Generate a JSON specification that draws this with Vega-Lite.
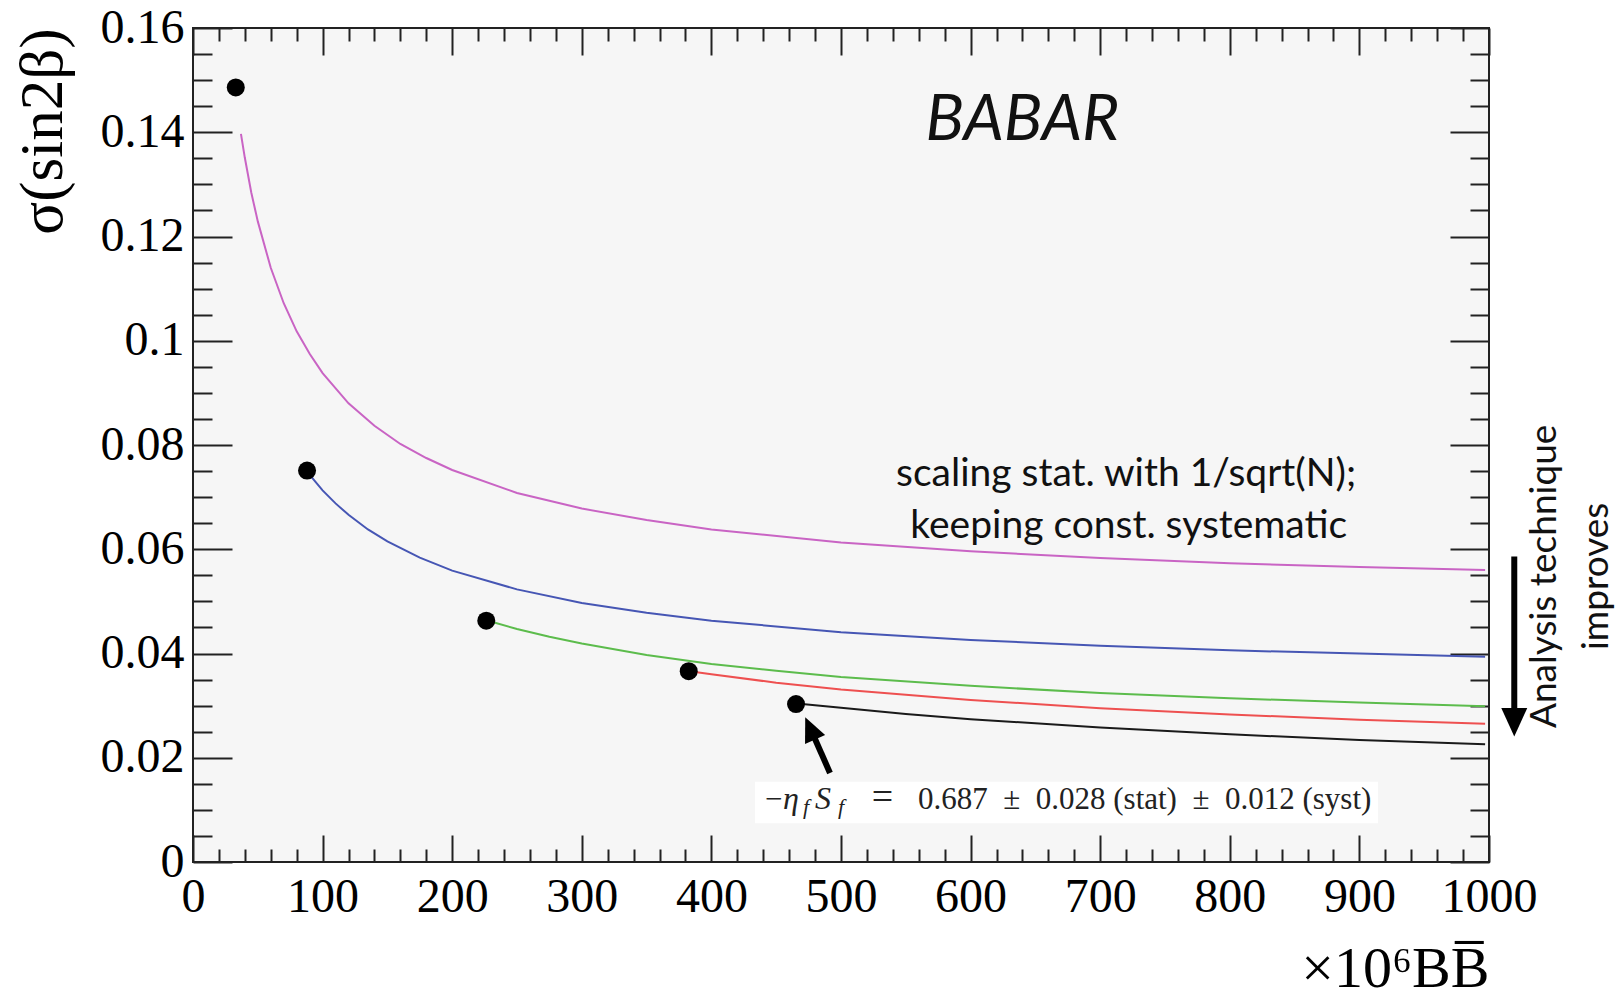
{
  "$schema": "https://vega.github.io/schema/vega-lite/v6.json",
  "width": 1296,
  "height": 834,
  "autosize": "none",
  "padding": {"left": 193, "top": 28, "right": 130, "bottom": 137},
  "background": "white",
  "config": {
    "view": {"fill": "#f6f6f6", "stroke": "#222222", "strokeWidth": 2},
    "axis": {
      "grid": false, "domain": false, "tickColor": "#222222", "tickWidth": 2,
      "labelFont": "Liberation Serif", "labelFontSize": 48, "labelColor": "#000000",
      "titleFont": "Liberation Serif", "titleFontSize": 61, "titleFontWeight": "normal", "titleColor": "#000000",
      "labelFlush": false, "labelOverlap": false
    }
  },
  "resolve": {"axis": {"x": "independent", "y": "independent"}},
  "datasets": {
    "curves": [
      {"c":"m","x":37,"y":0.1397},{"c":"m","x":40,"y":0.1351},{"c":"m","x":45,"y":0.1284},{"c":"m","x":50,"y":0.1229},{"c":"m","x":60,"y":0.1140},{"c":"m","x":70,"y":0.1072},{"c":"m","x":80,"y":0.1018},{"c":"m","x":90,"y":0.0975},{"c":"m","x":100,"y":0.0938},{"c":"m","x":120,"y":0.0880},{"c":"m","x":140,"y":0.0837},{"c":"m","x":160,"y":0.0802},{"c":"m","x":180,"y":0.0775},{"c":"m","x":200,"y":0.0752},{"c":"m","x":250,"y":0.0708},{"c":"m","x":300,"y":0.0678},{"c":"m","x":350,"y":0.0656},{"c":"m","x":400,"y":0.0638},{"c":"m","x":500,"y":0.0613},{"c":"m","x":600,"y":0.0596},{"c":"m","x":700,"y":0.0583},{"c":"m","x":800,"y":0.0573},{"c":"m","x":900,"y":0.0566},{"c":"m","x":997,"y":0.0560},
      {"c":"b","x":91,"y":0.0740},{"c":"b","x":100,"y":0.0713},{"c":"b","x":110,"y":0.0688},{"c":"b","x":120,"y":0.0666},{"c":"b","x":135,"y":0.0638},{"c":"b","x":150,"y":0.0615},{"c":"b","x":175,"y":0.0584},{"c":"b","x":200,"y":0.0559},{"c":"b","x":250,"y":0.0523},{"c":"b","x":300,"y":0.0497},{"c":"b","x":350,"y":0.0478},{"c":"b","x":400,"y":0.0463},{"c":"b","x":500,"y":0.0441},{"c":"b","x":600,"y":0.0426},{"c":"b","x":700,"y":0.0415},{"c":"b","x":800,"y":0.0406},{"c":"b","x":900,"y":0.0400},{"c":"b","x":997,"y":0.0394},
      {"c":"g","x":229,"y":0.0462},{"c":"g","x":250,"y":0.0447},{"c":"g","x":275,"y":0.0432},{"c":"g","x":300,"y":0.0419},{"c":"g","x":350,"y":0.0397},{"c":"g","x":400,"y":0.0380},{"c":"g","x":450,"y":0.0367},{"c":"g","x":500,"y":0.0355},{"c":"g","x":600,"y":0.0338},{"c":"g","x":700,"y":0.0324},{"c":"g","x":800,"y":0.0314},{"c":"g","x":900,"y":0.0306},{"c":"g","x":997,"y":0.0299},
      {"c":"r","x":386,"y":0.0365},{"c":"r","x":400,"y":0.0360},{"c":"r","x":450,"y":0.0344},{"c":"r","x":500,"y":0.0331},{"c":"r","x":600,"y":0.0311},{"c":"r","x":700,"y":0.0295},{"c":"r","x":800,"y":0.0283},{"c":"r","x":900,"y":0.0273},{"c":"r","x":997,"y":0.0265},
      {"c":"k","x":470,"y":0.0303},{"c":"k","x":500,"y":0.0296},{"c":"k","x":550,"y":0.0284},{"c":"k","x":600,"y":0.0274},{"c":"k","x":700,"y":0.0258},{"c":"k","x":800,"y":0.0245},{"c":"k","x":900,"y":0.0234},{"c":"k","x":997,"y":0.0226}
    ],
    "points": [
      {"x":33.0,"y":0.1486},{"x":88.0,"y":0.0751},{"x":226.3,"y":0.0463},{"x":382.5,"y":0.0366},{"x":465.3,"y":0.0303}
    ],
    "box": [{"x":433.6,"x2":914.3,"y":0.00742,"y2":0.01541}],
    "eqrm": [
      {"x":441.4,"y":0.0101,"t":"−"},
      {"x":559.4,"y":0.0101,"t":"0.687\u2002±\u20020.028 (stat)\u2002±\u20020.012 (syst)"}
    ],
    "eqeq": [{"x":532.0,"y":0.0101,"t":"="}],
    "eqit": [{"x":455.2,"y":0.0101,"t":"η"},{"x":479.9,"y":0.0101,"t":"S"}],
    "eqsub": [{"x":470.7,"y":0.0092,"t":"f"},{"x":497.7,"y":0.0092,"t":"f"}],
    "babar": [{"x":640,"y":0.1385,"t":"BABAR"}],
    "note": [{"x":720,"y":0.0722,"t":"scaling stat. with 1/sqrt(N);"},{"x":722,"y":0.0621,"t":"keeping const. systematic"}],
    "side": [{"x":1051.5,"y":0.0548,"t":"Analysis technique"},{"x":1091.5,"y":0.0548,"t":"improves"}],
    "shafts": [{"x":1019.5,"y":0.0586,"x2":1019.5,"y2":0.0285},{"x":491.5,"y":0.01707,"x2":477.6,"y2":0.02494}],
    "headBig": [{"x":1019.5,"y":0.02681}],
    "headSmall": [{"x":476.2,"y":0.02563}]
  },
  "layer": [
    {
      "data": {"name": "box"},
      "mark": {"type": "rect", "fill": "#ffffff"},
      "encoding": {
        "x": {"field": "x", "type": "quantitative", "scale": {"domain": [0, 1000], "nice": false, "zero": false},
              "axis": {"orient": "top", "values": [0,100,200,300,400,500,600,700,800,900,1000], "tickSize": -27, "labels": false, "title": null}},
        "x2": {"field": "x2"},
        "y": {"field": "y", "type": "quantitative", "scale": {"domain": [0, 0.16], "nice": false, "zero": false},
              "axis": {"orient": "right", "values": [0,0.02,0.04,0.06,0.08,0.1,0.12,0.14,0.16], "tickSize": -39, "labels": false, "title": null}},
        "y2": {"field": "y2"}
      }
    },
    {
      "data": {"name": "curves"},
      "mark": {"type": "line", "strokeWidth": 2},
      "encoding": {
        "x": {"field": "x", "type": "quantitative", "scale": {"domain": [0, 1000], "nice": false, "zero": false},
              "axis": {"orient": "bottom", "values": [0,100,200,300,400,500,600,700,800,900,1000], "tickSize": -27, "labelPadding": 38, "format": "d",
                       "title": "×10⁶BB̅", "titleFontSize": 58, "titleX": 1296, "titleY": 124, "titleAlign": "right", "titleBaseline": "alphabetic", "titleAngle": 0}},
        "y": {"field": "y", "type": "quantitative", "scale": {"domain": [0, 0.16], "nice": false, "zero": false},
              "axis": {"orient": "left", "values": [0,0.02,0.04,0.06,0.08,0.1,0.12,0.14,0.16], "tickSize": -39, "labelPadding": 48, "format": ".2~f",
                       "title": "σ(sin2β)", "titleX": -119, "titleY": 0, "titleAngle": 270, "titleAlign": "right", "titleBaseline": "bottom"}},
        "color": {"field": "c", "type": "nominal", "legend": null,
                  "scale": {"domain": ["m","b","g","r","k"], "range": ["#c964c4","#4656b4","#5cbc4c","#ee5050","#1a1a1a"]}},
        "detail": {"field": "c"}
      }
    },
    {
      "data": {"name": "points"},
      "mark": {"type": "point", "shape": "circle", "filled": true, "size": 324, "color": "#000000", "opacity": 1},
      "encoding": {
        "x": {"field": "x", "type": "quantitative", "scale": {"domain": [0, 1000], "nice": false, "zero": false},
              "axis": {"orient": "bottom", "values": [20,40,60,80,120,140,160,180,220,240,260,280,320,340,360,380,420,440,460,480,520,540,560,580,620,640,660,680,720,740,760,780,820,840,860,880,920,940,960,980], "tickSize": -13, "labels": false, "title": null}},
        "y": {"field": "y", "type": "quantitative", "scale": {"domain": [0, 0.16], "nice": false, "zero": false},
              "axis": {"orient": "left", "values": [0.005,0.01,0.015,0.025,0.03,0.035,0.045,0.05,0.055,0.065,0.07,0.075,0.085,0.09,0.095,0.105,0.11,0.115,0.125,0.13,0.135,0.145,0.15,0.155], "tickSize": -19, "labels": false, "title": null}}
      }
    },
    {
      "data": {"name": "eqrm"},
      "mark": {"type": "text", "font": "Liberation Serif", "fontSize": 31, "align": "left", "baseline": "alphabetic", "color": "#222222"},
      "encoding": {
        "x": {"field": "x", "type": "quantitative", "scale": {"domain": [0, 1000], "nice": false, "zero": false},
              "axis": {"orient": "top", "values": [20,40,60,80,120,140,160,180,220,240,260,280,320,340,360,380,420,440,460,480,520,540,560,580,620,640,660,680,720,740,760,780,820,840,860,880,920,940,960,980], "tickSize": -13, "labels": false, "title": null}},
        "y": {"field": "y", "type": "quantitative", "scale": {"domain": [0, 0.16], "nice": false, "zero": false},
              "axis": {"orient": "right", "values": [0.005,0.01,0.015,0.025,0.03,0.035,0.045,0.05,0.055,0.065,0.07,0.075,0.085,0.09,0.095,0.105,0.11,0.115,0.125,0.13,0.135,0.145,0.15,0.155], "tickSize": -19, "labels": false, "title": null}},
        "text": {"field": "t"}
      }
    },
    {
      "data": {"name": "eqeq"},
      "mark": {"type": "text", "font": "Liberation Serif", "fontSize": 38, "align": "center", "baseline": "alphabetic", "color": "#222222"},
      "encoding": {
        "x": {"field": "x", "type": "quantitative", "axis": null},
        "y": {"field": "y", "type": "quantitative", "axis": null},
        "text": {"field": "t"}
      }
    },
    {
      "data": {"name": "eqit"},
      "mark": {"type": "text", "font": "Liberation Serif", "fontStyle": "italic", "fontSize": 32, "align": "left", "baseline": "alphabetic", "color": "#222222"},
      "encoding": {
        "x": {"field": "x", "type": "quantitative", "axis": null},
        "y": {"field": "y", "type": "quantitative", "axis": null},
        "text": {"field": "t"}
      }
    },
    {
      "data": {"name": "eqsub"},
      "mark": {"type": "text", "font": "Liberation Serif", "fontStyle": "italic", "fontSize": 22, "align": "left", "baseline": "alphabetic", "color": "#222222"},
      "encoding": {
        "x": {"field": "x", "type": "quantitative", "axis": null},
        "y": {"field": "y", "type": "quantitative", "axis": null},
        "text": {"field": "t"}
      }
    },
    {
      "data": {"name": "babar"},
      "mark": {"type": "text", "font": "Lato", "fontStyle": "italic", "fontSize": 64, "align": "center", "baseline": "alphabetic", "color": "#111111"},
      "encoding": {
        "x": {"field": "x", "type": "quantitative", "axis": null},
        "y": {"field": "y", "type": "quantitative", "axis": null},
        "text": {"field": "t"}
      }
    },
    {
      "data": {"name": "note"},
      "mark": {"type": "text", "font": "Lato", "fontSize": 39, "align": "center", "baseline": "alphabetic", "color": "#111111"},
      "encoding": {
        "x": {"field": "x", "type": "quantitative", "axis": null},
        "y": {"field": "y", "type": "quantitative", "axis": null},
        "text": {"field": "t"}
      }
    },
    {
      "data": {"name": "side"},
      "mark": {"type": "text", "font": "Lato", "fontSize": 37, "align": "center", "baseline": "alphabetic", "angle": 270, "color": "#111111"},
      "encoding": {
        "x": {"field": "x", "type": "quantitative", "axis": null},
        "y": {"field": "y", "type": "quantitative", "axis": null},
        "text": {"field": "t"}
      }
    },
    {
      "data": {"name": "shafts"},
      "mark": {"type": "rule", "strokeWidth": 6, "color": "#000000"},
      "encoding": {
        "x": {"field": "x", "type": "quantitative", "axis": null},
        "y": {"field": "y", "type": "quantitative", "axis": null},
        "x2": {"field": "x2"},
        "y2": {"field": "y2"}
      }
    },
    {
      "data": {"name": "headBig"},
      "mark": {"type": "point", "shape": "M-1,-1.1L1,-1.1L0,1.1Z", "filled": true, "size": 676, "color": "#000000", "opacity": 1},
      "encoding": {
        "x": {"field": "x", "type": "quantitative", "axis": null},
        "y": {"field": "y", "type": "quantitative", "axis": null}
      }
    },
    {
      "data": {"name": "headSmall"},
      "mark": {"type": "point", "shape": "M-1,1.1L1,1.1L0,-1.1Z", "filled": true, "size": 484, "angle": -24, "color": "#000000", "opacity": 1},
      "encoding": {
        "x": {"field": "x", "type": "quantitative", "axis": null},
        "y": {"field": "y", "type": "quantitative", "axis": null}
      }
    }
  ]
}
